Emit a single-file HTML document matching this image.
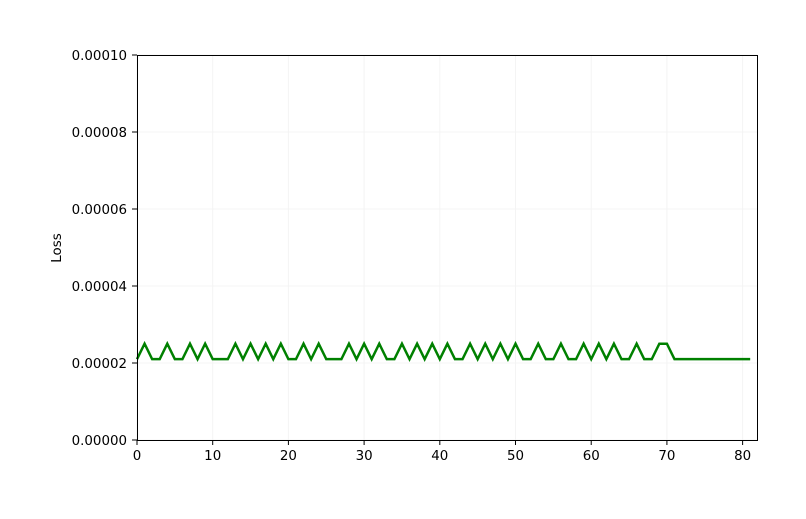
<!DOCTYPE html>
<html><head><meta charset="utf-8"><style>
body{margin:0;background:#fff;font-family:"Liberation Sans","DejaVu Sans",sans-serif;}
svg text{font-family:"DejaVu Sans","Liberation Sans",sans-serif;font-size:13.4px;fill:#000;}
</style></head><body>
<svg id="chart" width="806" height="514" xmlns="http://www.w3.org/2000/svg">
<rect width="806" height="514" fill="#fff"/>
<g id="grid"></g>
<g id="xticks"></g>
<g id="yticks"></g>
<path id="line" fill="none" stroke="#008000" stroke-width="2.5" stroke-linejoin="miter"/>
<rect x="137.5" y="55.5" width="620" height="385" fill="none" stroke="#000" stroke-width="1"/>
<text transform="translate(61,248) rotate(-90)" text-anchor="middle">Loss</text>
</svg>
<script>
const peakIdx = [1,4,7,9,13,15,17,19,22,24,28,30,32,35,37,39,41,44,46,48,50,53,56,59,61,63,66,69,70];
const baseVal = 0.000021;
const peakVal = 0.000025;
const xTicks = [0,10,20,30,40,50,60,70,80];
const yTicks = [0,0.00002,0.00004,0.00006,0.00008,0.0001];
const yTickLabels = ["0.00000","0.00002","0.00004","0.00006","0.00008","0.00010"];
const nPoints = 82;
const values = [];
for (let i=0;i<nPoints;i++) values.push(peakIdx.includes(i)?peakVal:baseVal);

const L=137,R=757,T=55,B=440,XMAX=81.9,YMAX=0.0001;
const sx=v=>L+v/XMAX*(R-L);
const sy=v=>B-v/YMAX*(B-T);
const NS="http://www.w3.org/2000/svg";
const grid=document.getElementById('grid'),xg=document.getElementById('xticks'),yg=document.getElementById('yticks');
function mk(tag,attrs,parent){const e=document.createElementNS(NS,tag);for(const k in attrs)e.setAttribute(k,attrs[k]);parent.appendChild(e);return e;}
xTicks.forEach(t=>{
  const x=sx(t);
  const g=mk('line',{x1:x,x2:x,y1:T,y2:B,stroke:'#f4f4f4','stroke-width':1},grid);
  
  
  const tk=mk('line',{x1:x,x2:x,y1:B,y2:B+5,stroke:'#000'},xg);
  
  
  const tx=mk('text',{x:x,y:B+20,'text-anchor':'middle'},xg);
  tx.textContent=t;
  
  
});
yTicks.forEach((t,i)=>{
  const y=sy(t);
  const g=mk('line',{x1:L,x2:R,y1:y,y2:y,stroke:'#f4f4f4','stroke-width':1},grid);
  
  
  const tk=mk('line',{x1:L-5,x2:L,y1:y,y2:y,stroke:'#000'},yg);
  
  
  const tx=mk('text',{x:L-10,y:y+5,'text-anchor':'end'},yg);
  tx.textContent=yTickLabels[i];
  
  
});
document.getElementById('line').setAttribute('d',values.map((v,i)=>(i?'L':'M')+sx(i).toFixed(2)+','+sy(v).toFixed(2)).join(''));
</script>
</body></html>
